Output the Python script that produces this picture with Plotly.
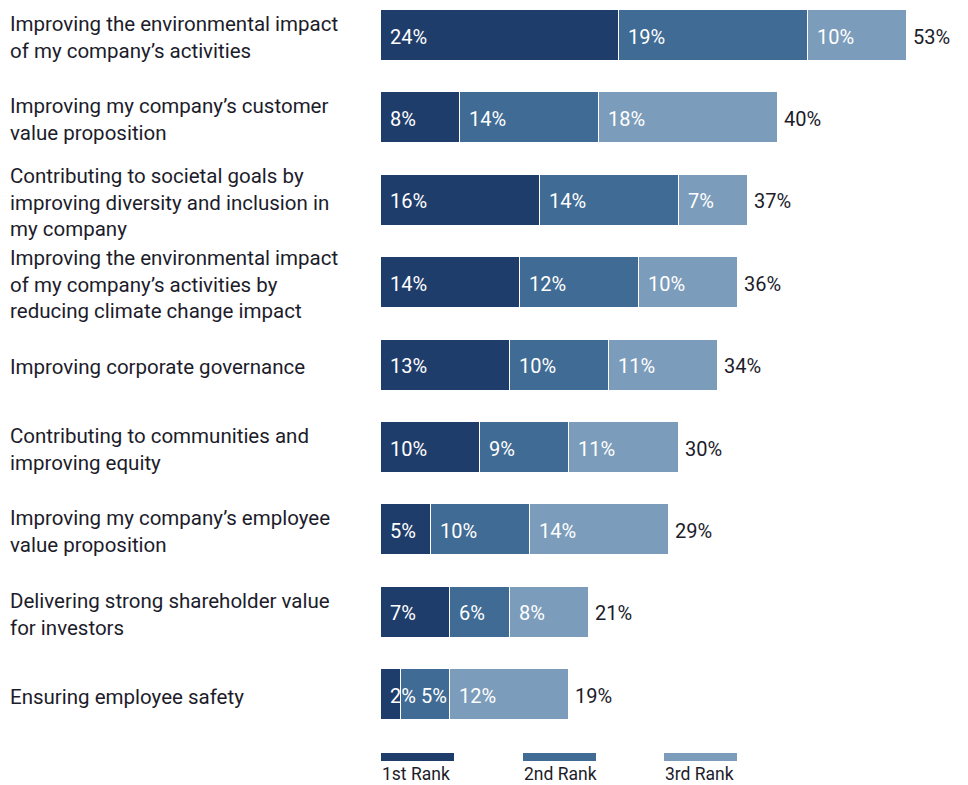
import plotly.graph_objects as go

# Survey: share of respondents ranking each priority 1st / 2nd / 3rd
categories = [
    "Improving the environmental impact<br>of my company’s activities",
    "Improving my company’s customer<br>value proposition",
    "Contributing to societal goals by<br>improving diversity and inclusion in<br>my company",
    "Improving the environmental impact<br>of my company’s activities by<br>reducing climate change impact",
    "Improving corporate governance",
    "Contributing to communities and<br>improving equity",
    "Improving my company’s employee<br>value proposition",
    "Delivering strong shareholder value<br>for investors",
    "Ensuring employee safety",
]
rank1 = [24, 8, 16, 14, 13, 10, 5, 7, 2]
rank2 = [19, 14, 14, 12, 10, 9, 10, 6, 5]
rank3 = [10, 18, 7, 10, 11, 11, 14, 8, 12]
totals = [53, 40, 37, 36, 34, 30, 29, 21, 19]
series_names = ["1st Rank", "2nd Rank", "3rd Rank"]
colors = ["#1f3d6b", "#3f6b94", "#7b9cba"]

W, H = 968, 785
L, B = 381, 50
plot_w, plot_h = W - L, H - B
px_per_unit = 9.92
x_max = plot_w / px_per_unit

row_px = 82.4
first_center = 35.5
y_top = -first_center / row_px
y_bottom = (plot_h - first_center) / row_px

ypos = list(range(len(categories)))
font_family = "Roboto, 'Noto Sans', sans-serif"
value_size = 20
label_size = 20.5
text_dark = "#1c1c2b"


def est_width(text, size):
    # rough glyph-advance estimate for digits and percent signs
    w = 0.0
    for ch in text:
        w += 0.73 if ch == "%" else 0.56
    return w * size


fig = go.Figure()
series = [rank1, rank2, rank3]
for name, vals, col in zip(series_names, series, colors):
    fig.add_trace(go.Bar(
        y=ypos, x=vals, name=name, orientation="h",
        marker=dict(color=col, line=dict(color="white", width=1)),
        width=0.62, hoverinfo="x+name", showlegend=False,
    ))

annotations = []
pad = 7
for i in ypos:
    base = 0
    prev_end = None
    for vals in series:
        v = vals[i]
        txt = f"{v}%"
        seg_px = base * px_per_unit
        start_px = seg_px + pad
        # push a label right if the previous one spills over a narrow segment
        if prev_end is not None and start_px < prev_end + 5:
            start_px = prev_end + 5
        annotations.append(dict(
            x=base, y=i, xref="x", yref="y", text=txt,
            showarrow=False, xanchor="left", yanchor="middle",
            xshift=start_px - seg_px, yshift=-1,
            font=dict(family=font_family, size=value_size, color="white"),
        ))
        prev_end = start_px + est_width(txt, value_size)
        base += v
    # Total at end of bar
    annotations.append(dict(
        x=base, y=i, xref="x", yref="y", text=f"{totals[i]}%",
        showarrow=False, xanchor="left", yanchor="middle", xshift=4, yshift=-1,
        font=dict(family=font_family, size=value_size, color=text_dark),
    ))
    # Category label on the left
    annotations.append(dict(
        x=(8 - L) / plot_w, y=i, xref="paper", yref="y", text=categories[i],
        showarrow=False, xanchor="left", yanchor="middle", align="left",
        yshift=-2,
        font=dict(family=font_family, size=label_size, color=text_dark),
    ))

# Custom legend: colour bar with label underneath
shapes = []
legend_x = [381, 523, 664]
for lx, name, col in zip(legend_x, series_names, colors):
    x0 = (lx - L) / plot_w
    x1 = (lx + 73 - L) / plot_w
    shapes.append(dict(
        type="rect", xref="paper", yref="paper",
        x0=x0, x1=x1, y0=(plot_h - 761) / plot_h, y1=(plot_h - 753) / plot_h,
        fillcolor=col, line=dict(width=0),
    ))
    annotations.append(dict(
        x=x0, y=(plot_h - 774) / plot_h, xref="paper", yref="paper", text=name,
        showarrow=False, xanchor="left", yanchor="middle", borderpad=0,
        font=dict(family=font_family, size=17.5, color=text_dark),
    ))

fig.update_layout(
    width=W, height=H,
    margin=dict(l=L, r=0, t=0, b=B, pad=0),
    barmode="stack",
    bargap=0,
    plot_bgcolor="white", paper_bgcolor="white",
    xaxis=dict(range=[0, x_max], visible=False, fixedrange=True),
    yaxis=dict(range=[y_bottom, y_top], visible=False, fixedrange=True),
    annotations=annotations,
    shapes=shapes,
    showlegend=False,
)

fig.write_html("out.html")
